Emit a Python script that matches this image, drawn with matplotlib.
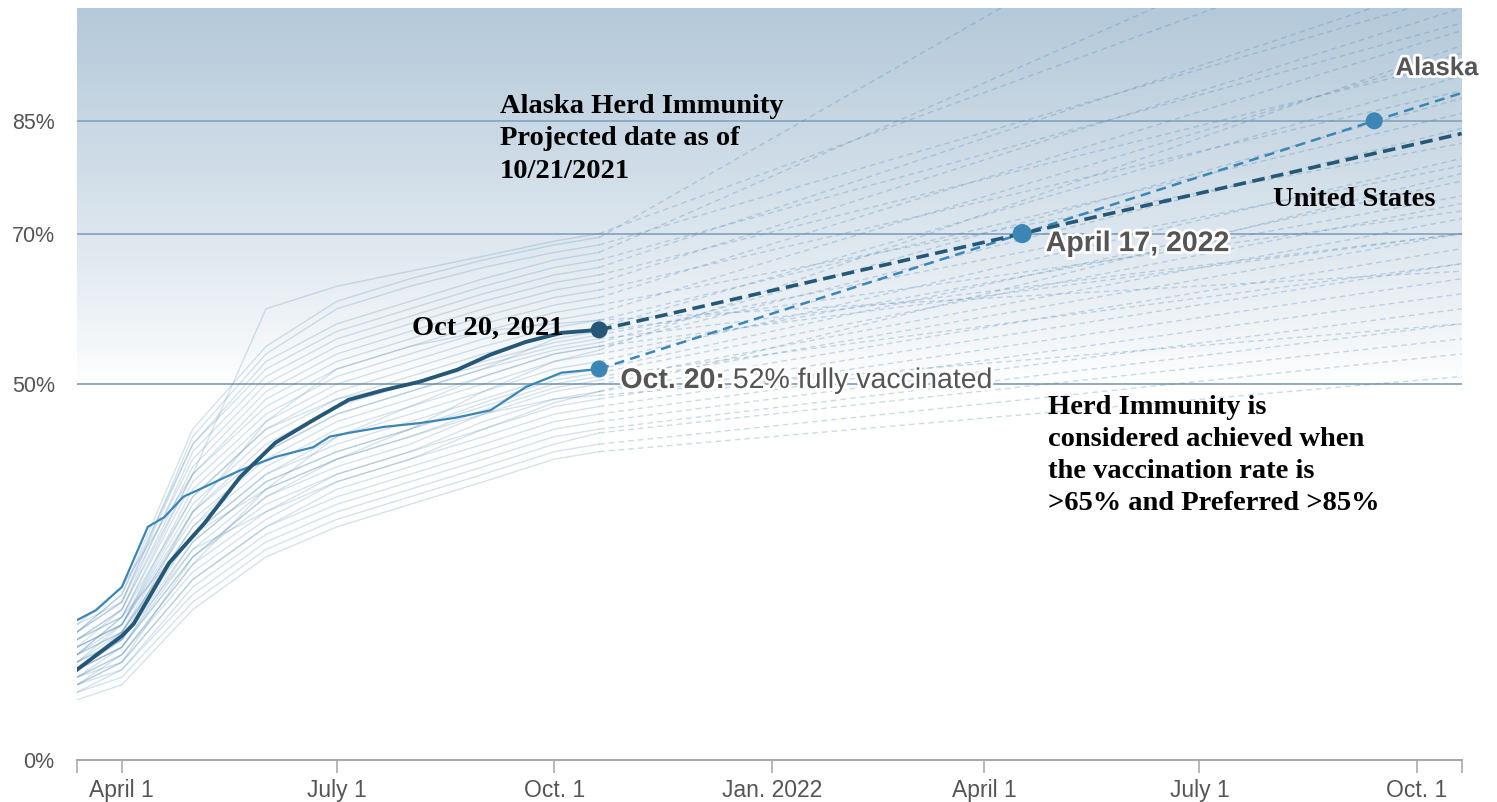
import numpy as np
import pandas as pd
import matplotlib
matplotlib.use('Agg')
import matplotlib.pyplot as plt
import matplotlib.patheffects as pe
from matplotlib.colors import LinearSegmentedColormap

# --- data (% of population fully vaccinated) ---
hist_dates = pd.to_datetime(['2021-03-13', '2021-04-01', '2021-05-01', '2021-06-01', '2021-07-01',
                             '2021-08-01', '2021-09-01', '2021-10-01', '2021-10-20'])
proj_end_date = pd.Timestamp('2022-10-20')

# one row per state: values at hist_dates
state_hist = [
    [8, 10, 20, 27, 31, 34, 37, 40, 41],
    [9, 11, 21, 28, 32, 35, 38, 41, 42],
    [9, 12, 22, 29, 33, 36, 39, 42, 43.5],
    [10, 12, 23, 30, 34, 37, 40, 43, 44],
    [10, 13, 24, 31, 35, 38, 41, 44, 45],
    [11, 13, 24, 31, 36, 39, 42, 45, 46],
    [10, 14, 25, 32, 37, 40, 43, 46, 47],
    [11, 14, 26, 33, 38, 41, 44, 47, 48],
    [12, 15, 27, 34, 38, 41, 45, 48, 49],
    [11, 15, 27, 35, 39, 42, 46, 49, 50],
    [12, 16, 28, 36, 40, 43, 46.5, 49.5, 50.5],
    [12, 15, 29, 37, 41, 44, 47, 50, 51],
    [13, 16, 29, 37, 41, 44, 47.5, 50.5, 51.5],
    [12, 17, 30, 38, 42, 45, 48, 51, 52],
    [13, 16, 30, 38, 43, 46, 49, 52, 53],
    [14, 17, 31, 39, 44, 47, 50, 53, 54],
    [13, 18, 32, 40, 45, 48, 51, 54, 55],
    [14, 17, 33, 41, 46, 49, 52, 54.5, 55.5],
    [14, 18, 33, 42, 47, 50, 53, 55.5, 56.5],
    [15, 18, 34, 43, 48, 51, 54, 56.5, 57.5],
    [14, 19, 35, 44, 49, 52, 55, 57.5, 58.5],
    [15, 18, 36, 45, 50, 53, 56, 58.5, 59.5],
    [16, 19, 37, 46, 51, 54, 57, 59.5, 60.5],
    [15, 20, 38, 47, 52, 55, 58, 60.5, 61.5],
    [16, 19, 38, 48, 53, 56, 59, 61.5, 62.5],
    [16, 20, 39, 49, 54, 57, 60, 62.5, 63.5],
    [17, 21, 40, 50, 55, 58, 61, 63.5, 64.5],
    [16, 20, 41, 51, 56, 59, 62, 64.5, 65.5],
    [17, 21, 42, 52, 57, 60, 63, 65.5, 66.5],
    [17, 22, 42, 53, 58, 61, 64, 66.5, 67.5],
    [18, 21, 43, 54, 60, 63, 65.5, 67.5, 68.5],
    [17, 22, 44, 55, 61, 64, 66.5, 68.5, 69.5],
    [18, 23, 38, 60, 63, 65, 67, 69, 70],
    [11, 14, 26, 36, 43, 47, 51, 54, 55],
    [12, 15, 28, 33, 37, 40, 44, 47.5, 49],
    [13, 17, 31, 41, 46, 49, 52, 56, 57],
    [10, 13, 27, 35, 40, 43, 46, 48, 48.5],
    [15, 18, 35, 44, 48, 50, 52.5, 55, 56],
    [12, 16, 33, 45, 52, 55, 57, 58, 58.5],
    [14, 19, 30, 36, 40, 44, 49, 53, 54.5],
]
# projected value one year later (Oct 20, 2022)
state_proj_end = [51, 54, 56, 58, 60, 62, 64, 66, 68, 70, 72, 66, 74, 77, 80, 75, 84, 88, 79,
                  91, 86, 94, 82, 97, 89, 100, 93, 104, 98, 118, 102, 135, 112, 70, 78, 73, 58, 70,
                  65, 95]

us_dates = pd.to_datetime(['2021-03-13', '2021-04-01', '2021-04-06', '2021-04-21', '2021-05-06',
                           '2021-05-21', '2021-06-05', '2021-06-21', '2021-07-06', '2021-07-21',
                           '2021-08-05', '2021-08-21', '2021-09-04', '2021-09-19', '2021-10-04',
                           '2021-10-20'])
us_vals = [12.0, 16.5, 18.1, 26.2, 31.5, 37.6, 42.2, 45.2, 47.9, 49.2, 50.3, 51.9, 53.9, 55.6, 56.8, 57.2]
us_proj_dates = pd.to_datetime(['2021-10-20', '2022-04-17', '2022-10-20'])
us_proj_vals = [57.2, 70.0, 83.3]

ak_dates = pd.to_datetime(['2021-03-13', '2021-03-21', '2021-04-01', '2021-04-12', '2021-04-19',
                           '2021-04-27', '2021-05-06', '2021-05-14', '2021-05-21', '2021-06-05',
                           '2021-06-21', '2021-06-28', '2021-07-06', '2021-07-21', '2021-08-05',
                           '2021-08-20', '2021-09-04', '2021-09-19', '2021-10-04', '2021-10-20'])
ak_vals = [18.6, 19.9, 23.0, 31.0, 32.3, 35.0, 36.3, 37.5, 38.5, 40.3, 41.6, 43.0, 43.5, 44.3, 44.8,
           45.5, 46.5, 49.6, 51.5, 52.0]
ak_proj_dates = pd.to_datetime(['2021-10-20', '2022-04-17', '2022-09-13', '2022-10-20'])
ak_proj_vals = [52.0, 70.0, 85.0, 88.7]

grid_levels = [50, 70, 85]
ytick_vals = [0, 50, 70, 85]
ytick_labels = ['0%', '50%', '70%', '85%']
xtick_dates = pd.to_datetime(['2021-04-01', '2021-07-01', '2021-10-01', '2022-01-01',
                              '2022-04-01', '2022-07-01', '2022-10-01'])
xtick_labels = ['April 1', 'July 1', 'Oct. 1', 'Jan. 2022', 'April 1', 'July 1', 'Oct. 1']
x_start = pd.Timestamp('2021-03-13')
x_end = pd.Timestamp('2022-10-20')

# --- styles ---
sans = 'Liberation Sans'
serif = 'Liberation Serif'
us_color = '#245876'
ak_color = '#3b86b4'
bg_color = '#4f88b2'
label_gray = '#555555'
halo = [pe.withStroke(linewidth=4, foreground='white')]

fig = plt.figure(figsize=(14.97, 8.02), dpi=100)
ax = fig.add_axes([0.0514, 0.0524, 0.925, 0.9376])

# gradient background above 50%
grad = np.linspace(0, 1, 256).reshape(-1, 1) ** 0.85
cmap = LinearSegmentedColormap.from_list('bg', ['#ffffff', '#b4c9da'])
ax.imshow(grad, extent=[x_start, x_end, 50, 100], origin='lower', aspect='auto',
          cmap=cmap, zorder=0, interpolation='bicubic')

for lvl in grid_levels:
    ax.axhline(lvl, color='#8eabc4', lw=1.4, zorder=1)

# background states
for row, end in zip(state_hist, state_proj_end):
    ax.plot(hist_dates, row, color=bg_color, lw=1.0, alpha=0.24, zorder=2)
    ax.plot([hist_dates[-1], proj_end_date], [row[-1], end], color=bg_color, lw=1.0,
            alpha=0.3, ls=(0, (4, 3)), zorder=2)

# Alaska
ax.plot(ak_dates, ak_vals, color=ak_color, lw=1.6, zorder=4)
ax.plot(ak_proj_dates, ak_proj_vals, color=ak_color, lw=1.8, ls=(0, (4, 2.5)), zorder=4)

# United States
ax.plot(us_dates, us_vals, color=us_color, lw=2.8, zorder=5)
ax.plot(us_proj_dates, us_proj_vals, color=us_color, lw=2.6, ls=(0, (3.5, 1.8)), zorder=5)

# dots
ax.scatter([us_dates[-1]], [us_vals[-1]], s=150, color=us_color, zorder=6, edgecolor='none')
ax.scatter([ak_dates[-1], ak_proj_dates[2]], [ak_vals[-1], ak_proj_vals[2]], s=150,
           color=ak_color, zorder=6, edgecolor='none')
ax.scatter([us_proj_dates[1]], [us_proj_vals[1]], s=190, color=ak_color, zorder=6, edgecolor='none')

# annotations
ax.text(pd.Timestamp('2021-09-08'), 88.6, 'Alaska Herd Immunity\nProjected date as of\n10/21/2021',
        family=serif, weight='bold', fontsize=20.5, va='top', ha='left', linespacing=1.4, zorder=7)
ax.text(pd.Timestamp('2021-10-05'), 57.4, 'Oct 20, 2021', family=serif, weight='bold',
        fontsize=20.5, va='center', ha='right', zorder=7)
t1 = ax.text(pd.Timestamp('2021-10-29'), 50.4, 'Oct. 20:', family=sans, weight='bold',
             fontsize=20.5, color=label_gray, va='center', ha='left', path_effects=halo, zorder=7)
ax.annotate(' 52% fully vaccinated', xy=(1, 0), xycoords=t1, va='bottom', ha='left',
            family=sans, fontsize=20.5, color=label_gray, path_effects=halo, zorder=7)
ax.text(pd.Timestamp('2022-04-27'), 68.6, 'April 17, 2022', family=sans, weight='bold',
        fontsize=20.5, color=label_gray, va='center', ha='left', path_effects=halo, zorder=7)
ax.text(pd.Timestamp('2022-08-01'), 74.6, 'United States', family=serif, weight='bold',
        fontsize=20.5, va='center', ha='left', zorder=7)
ax.text(pd.Timestamp('2022-09-22'), 92.0, 'Alaska', family=sans, weight='bold',
        fontsize=18.5, color=label_gray, va='center', ha='left', path_effects=halo, zorder=7,
        clip_on=False)
ax.text(pd.Timestamp('2022-04-28'), 48.6,
        'Herd Immunity is\nconsidered achieved when\nthe vaccination rate is\n>65% and Preferred >85%',
        family=serif, weight='bold', fontsize=20.5, va='top', ha='left', linespacing=1.37, zorder=7)

# axes
ax.set_xlim(x_start, x_end)
ax.set_ylim(0, 100)
ax.set_xticks(xtick_dates)
ax.set_xticklabels(xtick_labels, family=sans, fontsize=16.5, color=label_gray)
ax.set_xticks([x_start, x_end], minor=True)
ax.tick_params(axis='x', which='both', direction='out', length=9, width=1.2, color='#aaaaaa', pad=5)
ax.set_yticks(ytick_vals)
ax.set_yticklabels(ytick_labels, family=sans, fontsize=15.5, color=label_gray)
ax.tick_params(axis='y', length=0, pad=16)
for side in ['top', 'right', 'left']:
    ax.spines[side].set_visible(False)
ax.spines['bottom'].set_color('#aaaaaa')
ax.spines['bottom'].set_linewidth(1.5)
ax.set_facecolor('white')

fig.savefig('out.png', dpi=100)
